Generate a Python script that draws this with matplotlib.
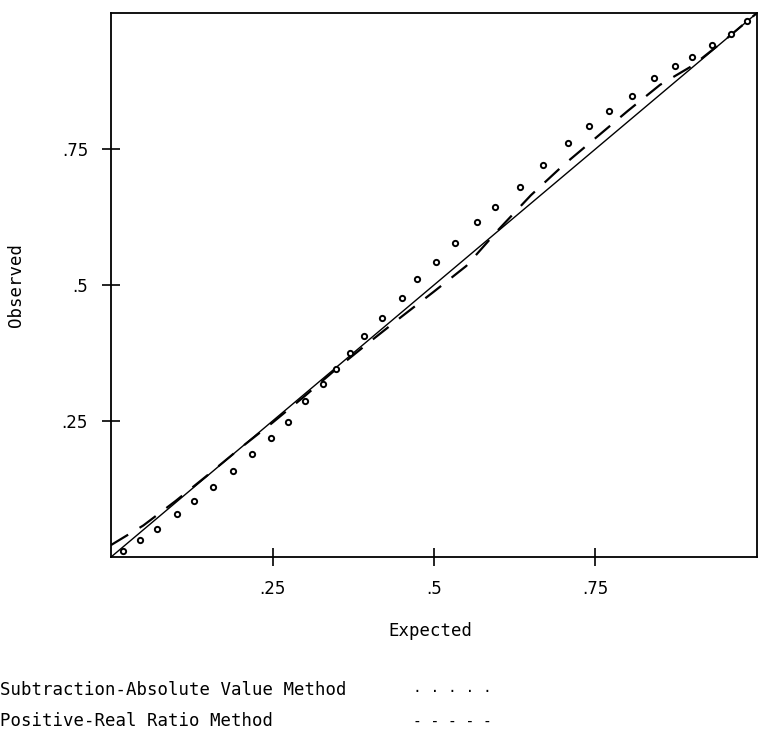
import matplotlib
matplotlib.use("Agg")
import matplotlib.pyplot as plt

# curva do metodo subtracao-valor absoluto (pontinhos)
sub_x = [0.018, 0.045, 0.071, 0.102, 0.129, 0.158, 0.189, 0.218, 0.248, 0.274,
         0.300, 0.328, 0.349, 0.370, 0.392, 0.420, 0.450, 0.474, 0.503, 0.532,
         0.567, 0.594, 0.633, 0.669, 0.707, 0.740, 0.771, 0.806, 0.841, 0.873,
         0.900, 0.930, 0.960, 0.985]
sub_y = [0.011, 0.031, 0.052, 0.079, 0.103, 0.129, 0.158, 0.189, 0.218, 0.248,
         0.287, 0.318, 0.346, 0.375, 0.406, 0.440, 0.476, 0.511, 0.542, 0.577,
         0.616, 0.643, 0.681, 0.720, 0.761, 0.792, 0.820, 0.847, 0.880, 0.903,
         0.920, 0.941, 0.962, 0.985]

# curva do metodo razao positivo-real (tracejada)
pr_x = [0.0, 0.05, 0.1, 0.15, 0.2, 0.25, 0.3, 0.35, 0.4, 0.45, 0.5,
        0.55, 0.6, 0.65, 0.7, 0.75, 0.8, 0.85, 0.9, 0.95, 1.0]
pr_y = [0.022, 0.058, 0.103, 0.151, 0.2, 0.247, 0.296, 0.347, 0.395, 0.442, 0.488,
        0.535, 0.602, 0.665, 0.72, 0.77, 0.82, 0.868, 0.903, 0.95, 1.0]

diag = [0, 1]

ticks = [0.25, 0.5, 0.75]
tick_labels = [".25", ".5", ".75"]

legend_names = ["Subtraction-Absolute Value Method", "Positive-Real Ratio Method"]
legend_marks = [". . . . .", "- - - - -"]

mono = "DejaVu Sans Mono"

fig = plt.figure(figsize=(7.61, 7.42), dpi=100)
ax = fig.add_axes([0.1459, 0.2493, 0.8488, 0.7332])

ax.plot(diag, diag, color="black", lw=1.0)
ax.plot(pr_x, pr_y, color="black", lw=1.6, dashes=(9, 6))
ax.plot(sub_x, sub_y, linestyle="none", marker="o", markersize=3.8,
        markerfacecolor="white", markeredgecolor="black", markeredgewidth=1.4)

ax.set_xlim(0, 1)
ax.set_ylim(0, 1)
ax.set_xticks(ticks)
ax.set_yticks(ticks)
ax.set_xticklabels(tick_labels, fontsize=12)
ax.set_yticklabels(tick_labels, fontsize=12)
ax.tick_params(direction="inout", length=13, width=1.2, pad=10)
for s in ax.spines.values():
    s.set_linewidth(1.3)

ax.set_xlabel("Expected", family=mono, fontsize=12.5)
ax.set_ylabel("Observed", family=mono, fontsize=12.5)
ax.xaxis.set_label_coords(0.495, -0.12)
ax.yaxis.set_label_coords(-0.133, 0.5)

# legenda escrita como texto, igual ao original
fig.text(0.0, 1 - 690 / 742, legend_names[0], family=mono, fontsize=12.5, va="center")
fig.text(0.0, 1 - 721 / 742, legend_names[1], family=mono, fontsize=12.5, va="center")
fig.text(413 / 761, 1 - 688 / 742, legend_marks[0], family=mono, fontsize=10.5, va="center")
fig.text(413 / 761, 1 - 722 / 742, legend_marks[1], family=mono, fontsize=10.5, va="center")

fig.savefig("out.png", dpi=100)
